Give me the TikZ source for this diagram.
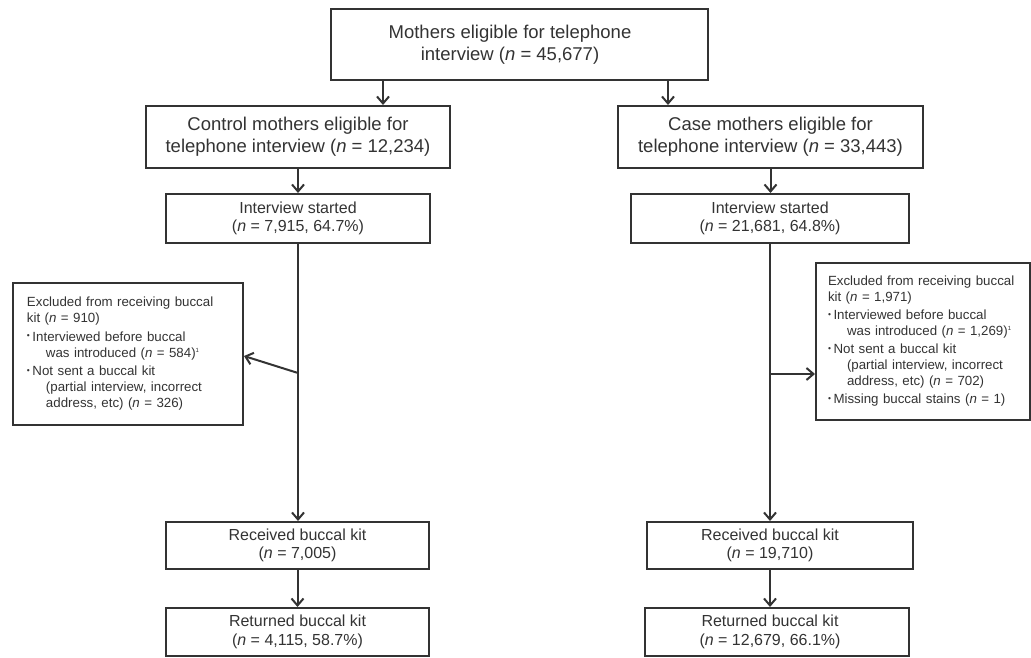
\documentclass[tikz,border=0pt]{standalone}
\usepackage{fontspec}
\setmainfont{Liberation Sans}
\usetikzlibrary{arrows.meta,calc}
\definecolor{ink}{HTML}{333333}
\newcommand{\nn}{\textit{n}}
\newcommand{\smbul}{\makebox[5.5pt][l]{\raisebox{2.5pt}{\fontsize{8.5}{8.5}\selectfont\textbullet}}}
\newcommand{\supone}{\raisebox{5pt}{\fontsize{6}{6}\selectfont 1}}
\begin{document}
\begin{tikzpicture}[x=1pt,y=-1pt,
  box/.style={draw=ink, line width=2pt, text=ink, align=center, inner sep=0pt},
  big/.style={font=\fontsize{18.5}{22}\selectfont},
  mid/.style={font=\fontsize{16}{18.5}\selectfont},
  small/.style={font=\fontsize{13.3}{16}\selectfont, align=left},
  arr/.style={draw=ink, line width=2pt, -{Straight Barb[length=7pt,width=12pt,line width=2pt]}}
]
\useasboundingbox (0,0) rectangle (1031,658);

\node[box,big,minimum width=377pt,minimum height=71pt] (top) at (519.5,44.5)
  {Mothers eligible for telephone\hspace*{19pt}\\interview (\nn{} = 45,677)\hspace*{19pt}};
\node[box,big,minimum width=304pt,minimum height=62pt] (ctl) at (298,137)
  {Control mothers eligible for\\telephone interview (\nn{} = 12,234)};
\node[box,big,minimum width=305pt,minimum height=62pt] (case) at (770.5,137)
  {Case mothers eligible for\\telephone interview (\nn{} = 33,443)};
\node[box,mid,minimum width=264pt,minimum height=49pt] (is1) at (298,218.5)
  {Interview started\\(\nn{} = 7,915, 64.7\%)};
\node[box,mid,minimum width=278pt,minimum height=49pt] (is2) at (770,218.5)
  {Interview started\\(\nn{} = 21,681, 64.8\%)};
\node[box,mid,minimum width=263pt,minimum height=47pt] (rec1) at (297.5,545.5)
  {Received buccal kit\\(\nn{} = 7,005)};
\node[box,mid,minimum width=263pt,minimum height=48pt] (ret1) at (297.5,632)
  {Returned buccal kit\\(\nn{} = 4,115, 58.7\%)};
\node[box,mid,minimum width=266pt,minimum height=47pt] (rec2) at (780,545.5)
  {Received buccal kit\hspace*{20pt}\\(\nn{} = 19,710)\hspace*{20pt}};
\node[box,mid,minimum width=264pt,minimum height=48pt] (ret2) at (777,632)
  {Returned buccal kit\hspace*{14pt}\\(\nn{} = 12,679, 66.1\%)\hspace*{14pt}};

\node[box,small,minimum width=230pt,minimum height=142pt,text width=202pt,inner xsep=14pt] (exc1) at (128,354)
  {Excluded from receiving buccal\\
   kit (\nn{} = 910)\\[2.5pt]
   \smbul Interviewed before buccal\\
   \hspace*{19pt}was introduced (\nn{} = 584)\supone\\[2.5pt]
   \smbul Not sent a buccal kit\\
   \hspace*{19pt}(partial interview, incorrect\\
   \hspace*{19pt}address, etc) (\nn{} = 326)};
\node[box,small,minimum width=214pt,minimum height=157pt,text width=190pt,inner xsep=12pt] (exc2) at (923,341.5)
  {Excluded from receiving buccal\\
   kit (\nn{} = 1,971)\\[2pt]
   \smbul Interviewed before buccal\\
   \hspace*{19pt}was introduced (\nn{} = 1,269)\supone\\[2pt]
   \smbul Not sent a buccal kit\\
   \hspace*{19pt}(partial interview, incorrect\\
   \hspace*{19pt}address, etc) (\nn{} = 702)\\[2pt]
   \smbul Missing buccal stains (\nn{} = 1)};

\draw[arr] ([xshift=53pt]top.south west) -- ([xshift=53pt]top.south west |- ctl.north);
\draw[arr] ([xshift=-41pt]top.south east) -- ([xshift=-41pt]top.south east |- case.north);
\draw[arr] (ctl.south) -- (is1.north);
\draw[arr] (case.south) -- (case.south |- is2.north);
\draw[arr] (is1.south) -- (is1.south |- rec1.north);
\draw[arr] (rec1.south) -- (ret1.north);
\draw[arr] (is2.south) -- (is2.south |- rec2.north);
\draw[arr] (is2.south |- rec2.south) -- (is2.south |- ret2.north);

\coordinate (j1) at ([yshift=-129pt]is1.south);
\coordinate (j2) at ([yshift=-130pt]is2.south);
\draw[arr] (j1) -- ([yshift=-2pt]exc1.east);
\draw[arr] (j2) -- (j2 -| exc2.west);
\end{tikzpicture}
\end{document}
